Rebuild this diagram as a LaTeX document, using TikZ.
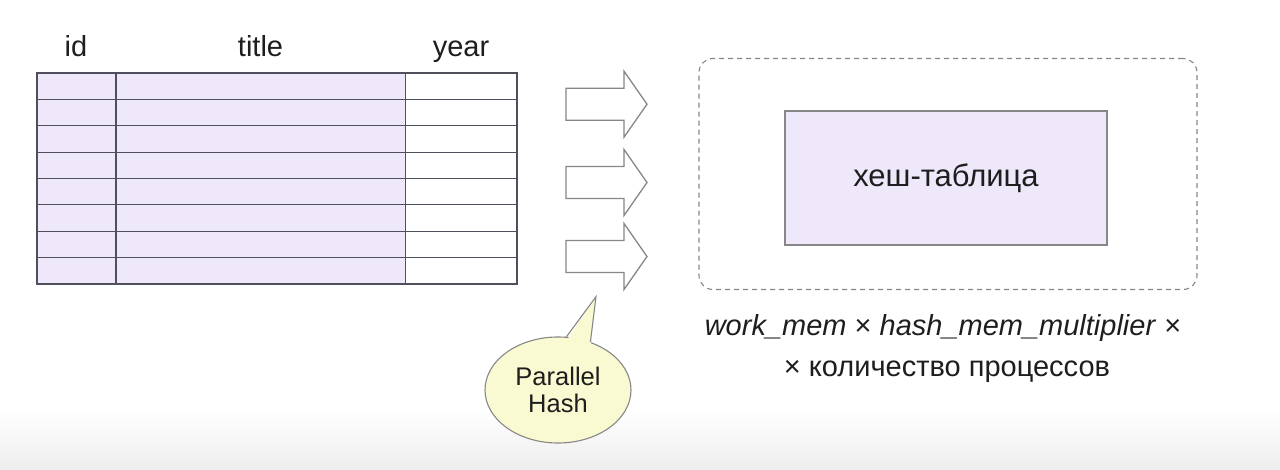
\documentclass[tikz,border=0pt]{standalone}
\usepackage{fontspec}
\setmainfont{Liberation Sans}
\usetikzlibrary{shapes.geometric}
\definecolor{lav}{RGB}{238,232,250}
\definecolor{tline}{RGB}{80,80,92}
\definecolor{gline}{RGB}{135,135,135}
\definecolor{bub}{RGB}{250,250,210}
\definecolor{txt}{RGB}{30,30,30}
\begin{document}
\begin{tikzpicture}[x=1pt,y=-1pt,
  lbl/.style={font=\fontsize{29}{34}\selectfont, text=txt, inner sep=0pt, anchor=base},
  cell/.style={draw=tline, line width=1.1pt},
  tablebox/.style={draw=tline, line width=1.1pt, inner sep=0pt, minimum width=480pt, minimum height=211pt},
  blockarrow/.style={draw=gline, line width=1.3pt, fill=white, line join=miter},
  zone/.style={draw=gline, dash pattern=on 5pt off 4pt, line width=1.1pt, rounded corners=14pt, minimum width=498pt, minimum height=231pt, inner sep=0pt},
  hbox/.style={draw=gline, fill=lav, line width=1.1pt, minimum width=322pt, minimum height=134pt, inner sep=0pt, font=\fontsize{31}{36}\selectfont, text=txt},
  bubble/.style={ellipse, draw=gline, fill=bub, line width=1.1pt, minimum width=146pt, minimum height=106pt, inner sep=0pt, align=center, font=\fontsize{25.5}{27}\selectfont, text=txt},
  formula/.style={font=\fontsize{29}{34}\selectfont, text=txt, inner sep=0pt, anchor=base}]
\useasboundingbox (0,0) rectangle (1280,470);
\fill[white] (0,0) rectangle (1280,470);
\shade[top color=white, bottom color=black!7] (0,410) rectangle (1280,470);

% table
\fill[lav] (37,73) rectangle (405.5,284);
\foreach \i in {1,...,7} \draw[cell] (37,73+\i*26.375) -- (517,73+\i*26.375);
\draw[cell] (116,73) -- (116,284);
\draw[cell] (405.5,73) -- (405.5,284);
\node[tablebox] (table) at (277,178.5) {};

\node[lbl] (hid) at (76,57) {id};
\node[lbl] (htitle) at (260.5,57) {title};
\node[lbl] (hyear) at (461,57) {year};

% block arrows
\foreach \c in {104.2,182.5,256.5}
  \draw[blockarrow] (566,\c-16) -- (624,\c-16) -- (624,\c-33) -- (647,\c) -- (624,\c+33) -- (624,\c+16) -- (566,\c+16) -- cycle;

% hash zone
\node[zone] (zone) at (948,174) {};
\node[hbox] (htab) at (946,178) {хеш-таблица};

\node[formula] (f1) at (943,336) {\textit{work\_mem} × \textit{hash\_mem\_multiplier} ×};
\node[formula] (f2) at (947,377) {× количество процессов};

% callout
\node[bubble] (ph) at (558,390) {Parallel\\Hash};
\coordinate (tip) at (596,296.7);
\fill[bub] ([yshift=-4pt]ph.81) -- (tip) -- ([yshift=-4pt]ph.56) -- cycle;
\draw[draw=gline, line width=1.1pt, line join=miter] (ph.81) -- (tip) -- (ph.56);
\end{tikzpicture}
\end{document}
